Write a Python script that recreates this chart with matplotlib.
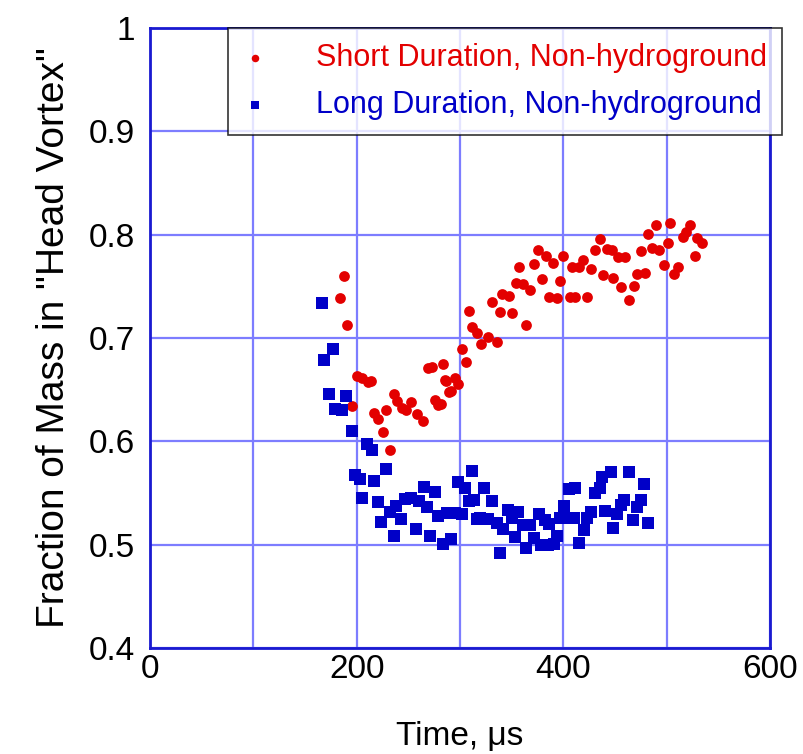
import matplotlib
matplotlib.use("Agg")
import matplotlib.pyplot as plt
from matplotlib.ticker import MultipleLocator, FuncFormatter

plt.rcParams['font.family'] = ['Liberation Sans', 'DejaVu Sans']

# Short duration, non-hydroground (red circles)
short_t = [188, 184, 191, 200, 205, 211, 214, 195, 217, 221, 228, 225, 232,
           236, 239, 244, 248, 253, 258, 264, 269, 273, 284, 285, 276, 279,
           289, 286, 295, 298, 291, 282, 302, 306, 309, 312, 316, 320, 327,
           336, 331, 339, 341, 347, 350, 357, 354, 361, 368, 364, 372, 375,
           383, 390, 379, 386, 394, 397, 400, 406, 408, 411, 423, 415, 419,
           427, 431, 435, 442, 447, 453, 460, 438, 448, 456, 464, 468, 471,
           479, 475, 482, 486, 490, 493, 497, 501, 503, 507, 511, 516, 519,
           523, 527, 529, 534]
short_f = [0.760, 0.739, 0.713, 0.663, 0.661, 0.657, 0.658, 0.634, 0.627,
           0.622, 0.630, 0.609, 0.592, 0.646, 0.639, 0.632, 0.630, 0.638,
           0.626, 0.620, 0.671, 0.672, 0.675, 0.659, 0.640, 0.635, 0.648,
           0.658, 0.661, 0.655, 0.649, 0.636, 0.689, 0.677, 0.726, 0.711,
           0.705, 0.694, 0.701, 0.696, 0.735, 0.725, 0.743, 0.741, 0.724,
           0.769, 0.753, 0.752, 0.746, 0.713, 0.772, 0.785, 0.779, 0.773,
           0.757, 0.740, 0.739, 0.755, 0.779, 0.740, 0.769, 0.740, 0.740,
           0.769, 0.775, 0.767, 0.785, 0.796, 0.786, 0.785, 0.778, 0.778,
           0.761, 0.758, 0.749, 0.737, 0.750, 0.762, 0.763, 0.784, 0.801,
           0.787, 0.809, 0.785, 0.771, 0.792, 0.811, 0.762, 0.769, 0.798,
           0.803, 0.809, 0.779, 0.797, 0.792]

# Long duration, non-hydroground (blue squares)
long_t = [166, 177, 168, 173, 190, 179, 186, 195, 210, 215, 228, 198, 203,
          217, 205, 221, 224, 232, 238, 243, 236, 247, 253, 260, 265, 268,
          276, 257, 271, 279, 284, 291, 287, 295, 302, 298, 305, 312, 309,
          316, 323, 314, 331, 319, 327, 336, 342, 339, 346, 356, 350, 353,
          361, 364, 368, 372, 376, 378, 382, 386, 385, 391, 394, 397, 401,
          405, 411, 403, 410, 415, 420, 423, 427, 431, 435, 437, 446, 440,
          448, 452, 456, 459, 464, 467, 471, 475, 478, 482]
long_f = [0.734, 0.689, 0.679, 0.646, 0.644, 0.631, 0.630, 0.610, 0.597,
          0.592, 0.573, 0.567, 0.564, 0.562, 0.545, 0.541, 0.522, 0.532,
          0.537, 0.525, 0.508, 0.544, 0.545, 0.542, 0.556, 0.536, 0.551,
          0.515, 0.508, 0.528, 0.501, 0.505, 0.531, 0.531, 0.530, 0.561,
          0.555, 0.571, 0.542, 0.525, 0.555, 0.543, 0.542, 0.526, 0.525,
          0.521, 0.515, 0.492, 0.534, 0.532, 0.526, 0.507, 0.519, 0.497,
          0.519, 0.506, 0.530, 0.500, 0.524, 0.520, 0.500, 0.501, 0.508,
          0.526, 0.537, 0.554, 0.555, 0.526, 0.526, 0.502, 0.514, 0.526,
          0.532, 0.550, 0.555, 0.565, 0.570, 0.533, 0.516, 0.530, 0.538,
          0.543, 0.570, 0.524, 0.536, 0.543, 0.559, 0.521]

red = '#e30000'
blue = '#0000c8'

fig = plt.figure(figsize=(8.04, 7.54), dpi=100)
ax = fig.add_axes([0.1866, 0.1406, 0.7711, 0.8223])

ax.scatter(short_t, short_f, s=60, marker='o', color=red, linewidths=0,
           label='Short Duration, Non-hydroground', zorder=3)
ax.scatter(long_t, long_f, s=70, marker='s', color=blue, linewidths=0,
           label='Long Duration, Non-hydroground', zorder=3)

ax.set_xlim(0, 600)
ax.set_ylim(0.4, 1.0)
ax.xaxis.set_major_locator(MultipleLocator(200))
ax.xaxis.set_minor_locator(MultipleLocator(100))
ax.yaxis.set_major_locator(MultipleLocator(0.1))
ax.yaxis.set_major_formatter(FuncFormatter(lambda v, p: '%g' % round(v, 2)))

ax.grid(True, which='both', color='#7d7dff', linewidth=1.6)
ax.set_axisbelow(True)
for sp in ax.spines.values():
    sp.set_color('#1a1ad0')
    sp.set_linewidth(2)
ax.tick_params(which='both', direction='in', length=0, labelsize=24,
               colors='black')
ax.tick_params(axis='x', pad=4)
ax.tick_params(axis='y', pad=11)

ax.set_xlabel('Time, \u03bcs', fontsize=24, labelpad=26)
ax.set_ylabel('Fraction of Mass in "Head Vortex"', fontsize=28, labelpad=12)

leg = ax.legend(loc='upper right', bbox_to_anchor=(1.02, 1.0), fontsize=22,
                frameon=True, fancybox=False, markerscale=0.7,
                handlelength=0.8, handletextpad=1.6, borderpad=0.5,
                labelspacing=0.55, borderaxespad=0)
leg.get_frame().set_edgecolor('black')
leg.get_frame().set_linewidth(1.2)
for txt, c in zip(leg.get_texts(), [red, blue]):
    txt.set_color(c)

fig.savefig('out.png', dpi=100)
